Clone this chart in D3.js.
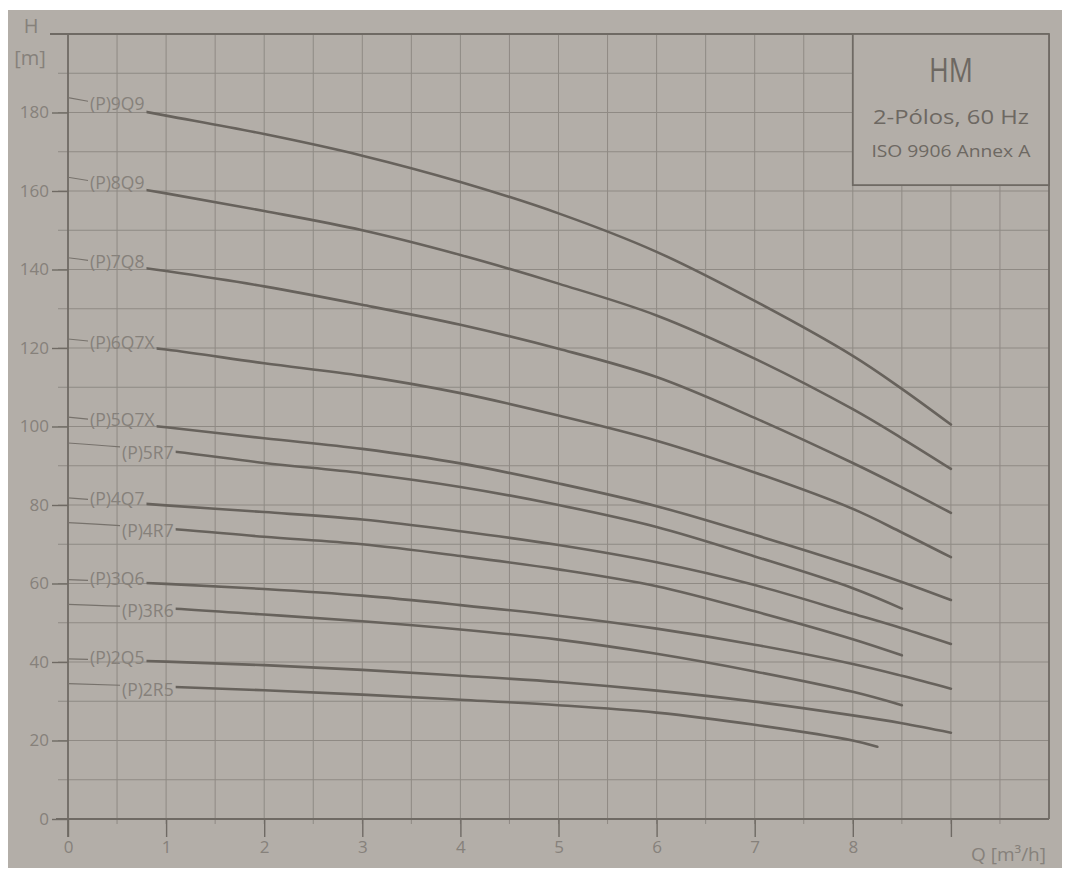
<!DOCTYPE html>
<html><head><meta charset="utf-8">
<script src="https://cdn.jsdelivr.net/npm/d3@7"></script>
<style>
html,body{margin:0;padding:0;background:#ffffff;}
svg{display:block;}
text{font-family:"Open Sans","Noto Sans",sans-serif;}
</style>
</head><body>
<svg id="chart" width="1066" height="870"></svg>
<script>
// ---- data ----
const flowQ   = [0, 1, 2, 3, 4, 5, 6, 7, 8, 8.5, 9];
const flowR   = [0, 1, 2, 3, 4, 5, 6, 7, 8, 8.5];
const flow2R5 = [0, 1, 2, 3, 4, 5, 6, 7, 8, 8.25];

const head9Q9  = [183.8, 179.2, 174.5, 169.0, 162.3, 154.3, 144.5, 132.0, 118.0, 109.6, 100.5];
const head8Q9  = [163.5, 159.4, 154.9, 150.0, 143.7, 136.4, 128.3, 117.3, 104.4, 97.0, 89.2];
const head7Q8  = [143.0, 139.6, 135.7, 131.0, 125.9, 119.8, 112.6, 102.2, 90.7, 84.5, 78.0];
const head6Q7X = [122.3, 119.6, 116.1, 112.9, 108.5, 102.8, 96.4, 88.3, 79.0, 73.0, 66.7];
const head5Q7X = [102.4, 99.8, 97.0, 94.3, 90.6, 85.5, 79.7, 72.4, 64.6, 60.4, 55.8];
const head5R7  = [95.8, 93.8, 90.7, 88.1, 84.6, 80.0, 74.4, 66.9, 58.8, 53.6];
const head4Q7  = [81.8, 79.9, 78.2, 76.3, 73.3, 69.8, 65.4, 59.6, 52.3, 48.6, 44.6];
const head4R7  = [75.5, 74.0, 71.9, 70.0, 67.0, 63.6, 59.3, 52.9, 45.8, 41.7];
const head3Q6  = [61.0, 59.9, 58.6, 56.9, 54.5, 51.8, 48.5, 44.4, 39.5, 36.5, 33.2];
const head3R6  = [54.7, 53.7, 52.1, 50.4, 48.3, 45.7, 42.1, 37.6, 32.4, 29.0];
const head2Q5  = [40.8, 40.1, 39.2, 38.0, 36.5, 34.9, 32.7, 29.9, 26.4, 24.4, 22.0];
const head2R5  = [34.5, 33.7, 32.8, 31.7, 30.4, 29.0, 27.1, 24.0, 20.0, 18.4];

const pumpModels = ["(P)9Q9", "(P)8Q9", "(P)7Q8", "(P)6Q7X", "(P)5Q7X", "(P)5R7",
                    "(P)4Q7", "(P)4R7", "(P)3Q6", "(P)3R6", "(P)2Q5", "(P)2R5"];
const pumpFlows = [flowQ, flowQ, flowQ, flowQ, flowQ, flowR, flowQ, flowR, flowQ, flowR, flowQ, flow2R5];
const pumpHeads = [head9Q9, head8Q9, head7Q8, head6Q7X, head5Q7X, head5R7,
                   head4Q7, head4R7, head3Q6, head3R6, head2Q5, head2R5];

const yTickValues = [0, 20, 40, 60, 80, 100, 120, 140, 160, 180];
const xTickValues = [0, 1, 2, 3, 4, 5, 6, 7, 8, 9];
const xTickLabels = ["0", "1", "2", "3", "4", "5", "6", "7", "8", ""];
const titleLines  = ["HM", "2-Pólos, 60 Hz", "ISO 9906 Annex A"];
const yAxisTitle  = ["H", "[m]"];
const xAxisTitle  = "Q [m³/h]";

// ---- drawing ----
const paper = "#b3aea8", gridC = "#8f8a84", frameC = "#6f6a64", textC = "#86817b", curveC = "#67625c";
const svg = d3.select("#chart");
svg.append("rect").attr("x", 8).attr("y", 10).attr("width", 1054).attr("height", 858).attr("fill", paper);

const x = d3.scaleLinear().domain([0, 10]).range([68, 1049]);
const y = d3.scaleLinear().domain([0, 200]).range([819, 34]);

// grid
const g = svg.append("g");
g.selectAll("line.v").data(d3.range(0.5, 10, 0.5)).join("line")
  .attr("x1", d => x(d)).attr("x2", d => x(d))
  .attr("y1", y(200)).attr("y2", y(0) + 5)
  .attr("stroke", gridC).attr("stroke-width", 1);
g.selectAll("line.h").data(d3.range(10, 200, 10)).join("line")
  .attr("x1", x(0) - 10).attr("x2", x(10))
  .attr("y1", d => y(d)).attr("y2", d => y(d))
  .attr("stroke", gridC).attr("stroke-width", 1);

// axes
const yAxis = svg.append("g").attr("transform", `translate(${x(0)},0)`)
  .call(d3.axisLeft(y).tickValues(yTickValues).tickSize(16).tickPadding(3));
const xAxis = svg.append("g").attr("transform", `translate(0,${y(0)})`)
  .call(d3.axisBottom(x).tickValues(xTickValues).tickFormat((d, i) => xTickLabels[i]).tickSize(18).tickPadding(4));
[yAxis, xAxis].forEach(a => {
  a.select(".domain").remove();
  a.selectAll("line").attr("stroke", frameC).attr("stroke-width", 1.4);
  a.selectAll("text").attr("fill", textC).attr("font-size", 17)
   .attr("font-family", '"Open Sans","Noto Sans",sans-serif');
});

// frame
const frame = svg.append("g").attr("stroke", frameC).attr("stroke-width", 1.8).attr("fill", "none");
frame.append("line").attr("x1", x(0)).attr("x2", x(0)).attr("y1", y(200)).attr("y2", y(0) + 18);
frame.append("line").attr("x1", x(0) - 18).attr("x2", x(10)).attr("y1", y(200)).attr("y2", y(200));
frame.append("line").attr("x1", x(10)).attr("x2", x(10)).attr("y1", y(200)).attr("y2", y(0));
frame.append("line").attr("x1", x(0) - 12).attr("x2", x(10)).attr("y1", y(0)).attr("y2", y(0));

// axis titles
svg.append("text").attr("x", 31).attr("y", 33).attr("text-anchor", "middle")
  .attr("fill", textC).attr("font-size", 20).text(yAxisTitle[0]);
svg.append("text").attr("x", 30).attr("y", 65).attr("text-anchor", "middle")
  .attr("fill", textC).attr("font-size", 20).text(yAxisTitle[1]);
svg.append("text").attr("x", 1046).attr("y", 861).attr("text-anchor", "end")
  .attr("fill", textC).attr("font-size", 19).text(xAxisTitle);

// legend box
svg.append("rect").attr("x", x(8)).attr("y", y(200))
  .attr("width", x(10) - x(8)).attr("height", y(161.5) - y(200))
  .attr("fill", paper).attr("stroke", frameC).attr("stroke-width", 1.8);
const lc = (x(8) + x(10)) / 2;
svg.append("text").attr("x", lc).attr("y", 82).attr("text-anchor", "middle")
  .attr("fill", "#6d6862").attr("font-size", 33).attr("textLength", 44).attr("lengthAdjust", "spacingAndGlyphs")
  .text(titleLines[0]);
svg.append("text").attr("x", lc).attr("y", 124).attr("text-anchor", "middle")
  .attr("fill", "#6d6862").attr("font-size", 20).attr("textLength", 156).attr("lengthAdjust", "spacingAndGlyphs")
  .text(titleLines[1]);
svg.append("text").attr("x", lc).attr("y", 157).attr("text-anchor", "middle")
  .attr("fill", "#6d6862").attr("font-size", 17).attr("textLength", 159).attr("lengthAdjust", "spacingAndGlyphs")
  .text(titleLines[2]);

// curves
const line = d3.line().x(d => x(d[0])).y(d => y(d[1])).curve(d3.curveCatmullRom.alpha(0.5));
const defs = svg.append("defs");
const curves = svg.append("g");
pumpModels.forEach((name, i) => {
  const pts = pumpFlows[i].map((q, j) => [q, pumpHeads[i][j]]);
  const interp = d3.scaleLinear().domain(pumpFlows[i]).range(pumpHeads[i]);
  const isR = name.indexOf("R") >= 0;
  const tx = isR ? x(0) + 54 : x(0) + 22;
  const label = curves.append("text").attr("x", tx).attr("fill", textC)
    .attr("font-size", 17.5).attr("dominant-baseline", "middle").text(name);
  const len = label.node().getComputedTextLength();
  const midQ = x.invert(tx + len / 2);
  label.attr("y", y(interp(midQ)) + (isR ? 5 : -1));
  const endX = tx + len;
  defs.append("clipPath").attr("id", "cl" + i).append("rect")
    .attr("x", x(0)).attr("y", 0).attr("width", tx - 2 - x(0)).attr("height", 870);
  defs.append("clipPath").attr("id", "cr" + i).append("rect")
    .attr("x", endX + 2).attr("y", 0).attr("width", 1066 - endX).attr("height", 870);
  curves.append("path").attr("d", line(pts)).attr("fill", "none")
    .attr("stroke", "#77726c").attr("stroke-width", 1.2).attr("clip-path", `url(#cl${i})`);
  curves.append("path").attr("d", line(pts)).attr("fill", "none")
    .attr("stroke", curveC).attr("stroke-width", 2.6).attr("stroke-linecap", "round")
    .attr("clip-path", `url(#cr${i})`);
});
</script>
</body></html>
